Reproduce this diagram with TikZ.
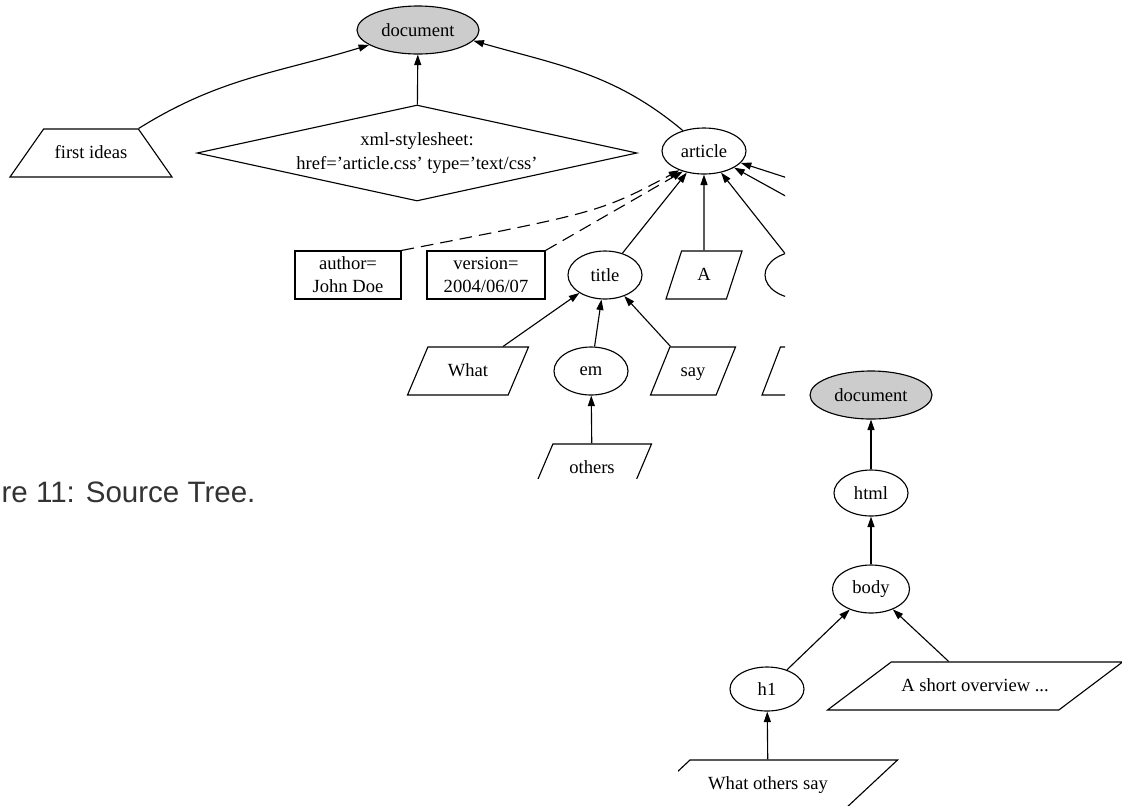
\documentclass[tikz,border=0pt]{standalone}
\usepackage{fontspec}
\setmainfont{Liberation Serif}
\newfontfamily\capfont{Liberation Sans}
\usetikzlibrary{shapes.geometric, arrows.meta}

\newdimen\unitpx
\unitpx=0.025cm

\tikzset{
  elem/.style={ellipse, draw, inner sep=0pt, minimum width=74\unitpx, minimum height=48\unitpx},
  root/.style={elem, fill=black!20, minimum width=122\unitpx},
  attr/.style={rectangle, draw, align=center, inner sep=0pt, minimum height=48\unitpx},
  txt/.style={trapezium, draw, inner sep=0pt, trapezium stretches body, text height=29\unitpx, text depth=19\unitpx},
  arr/.style={-{Triangle[length=7.5pt,width=5pt]}},
  dsh/.style={dash pattern=on 9pt off 5pt},
}

\begin{document}
\begin{tikzpicture}[x=0.025cm, y=-0.025cm, line width=0.8pt,
    font=\fontsize{13.2}{16.5}\selectfont]
  \useasboundingbox (0,0) rectangle (1122,805);

  % source tree, cut off at the right and at the bottom
  \begin{scope}
  \clip (0,0) rectangle (785,478);
  \node[root] (doc1) at (418,30) {document};
  \node[txt, trapezium left angle=55, trapezium right angle=55, minimum width=162\unitpx] (fi) at (91,153) {first ideas};
  \node[diamond, draw, align=center, inner sep=0pt, aspect=4.6, minimum width=440\unitpx, minimum height=96\unitpx] (xml) at (417,153) {xml-stylesheet:\\href='article.css' type='text/css'};
  \node[elem, minimum width=84\unitpx, minimum height=46\unitpx] (art) at (704,151) {article};

  \node[attr, minimum width=106\unitpx] (author) at (348,275) {author=\\John Doe};
  \node[attr, minimum width=118\unitpx] (version) at (486,275) {version=\\2004/06/07};
  \node[elem] (title) at (605,275) {title};
  \node[txt, trapezium left angle=72, trapezium right angle=108, minimum width=76\unitpx] (a) at (704,275) {A};
  \node[elem] (p2) at (802,275) {};

  \node[txt, trapezium left angle=67, trapezium right angle=113, minimum width=121\unitpx] (what) at (468,371) {What};
  \node[elem] (em) at (591,371) {em};
  \node[txt, trapezium left angle=68, trapezium right angle=112, minimum width=85\unitpx] (say) at (693,371) {say};
  \node[txt, trapezium left angle=69, trapezium right angle=111, minimum width=80\unitpx] (p3) at (802,371) {};
  \node[txt, trapezium left angle=67, trapezium right angle=113, minimum width=119\unitpx] (others) at (592,468) {others};

  \coordinate (r1) at (800,182);
  \coordinate (r2) at (800,204);

  \draw[arr] (fi.top right corner) to[out=32,in=197] (doc1.197);
  \draw[arr] (xml) -- (doc1);
  \draw[arr] (art.136) to[out=140,in=-16] (doc1.-11);
  \draw[arr, dsh] (author.north east) .. controls (600,212) .. (art.218);
  \draw[arr, dsh] (version.north east) -- (art.224);
  \draw[arr] (title) -- (art);
  \draw[arr] (a) -- (art);
  \draw[arr] (p2) -- (art);
  \draw[arr] (r1) -- (art);
  \draw[arr] (r2) -- (art);
  \draw[arr] (what) -- (title);
  \draw[arr] (em) -- (title);
  \draw[arr] (say) -- (title);
  \draw[arr] (others) -- (em);
  \end{scope}

  \node[font=\capfont\fontsize{21}{25}\selectfont, text=black!80, anchor=east, inner sep=0pt] (cap) at (256,492) {re 11: Source Tree.};

  % result tree, cut off at the left and at the bottom
  \begin{scope}
  \clip (678,330) rectangle (1122,805);
  \node[root] (doc2) at (871,395) {document};
  \node[elem, minimum height=46\unitpx] (html) at (871,493) {html};
  \node[elem, minimum width=77\unitpx] (body) at (871,589) {body};
  \node[elem, minimum height=44\unitpx] (h1) at (767,689) {h1};
  \node[txt, trapezium left angle=37, trapezium right angle=143, minimum width=295\unitpx] (ov) at (975,686) {A short overview ...};
  \node[txt, trapezium left angle=43, trapezium right angle=137, minimum width=259\unitpx] (wos) at (768,784) {What others say};

  \draw[arr] (html) -- (doc2);
  \draw[arr] (body) -- (html);
  \draw[arr] (h1) -- (body);
  \draw[arr] (ov) -- (body);
  \draw[arr] (wos) -- (h1);
  \end{scope}
\end{tikzpicture}
\end{document}
